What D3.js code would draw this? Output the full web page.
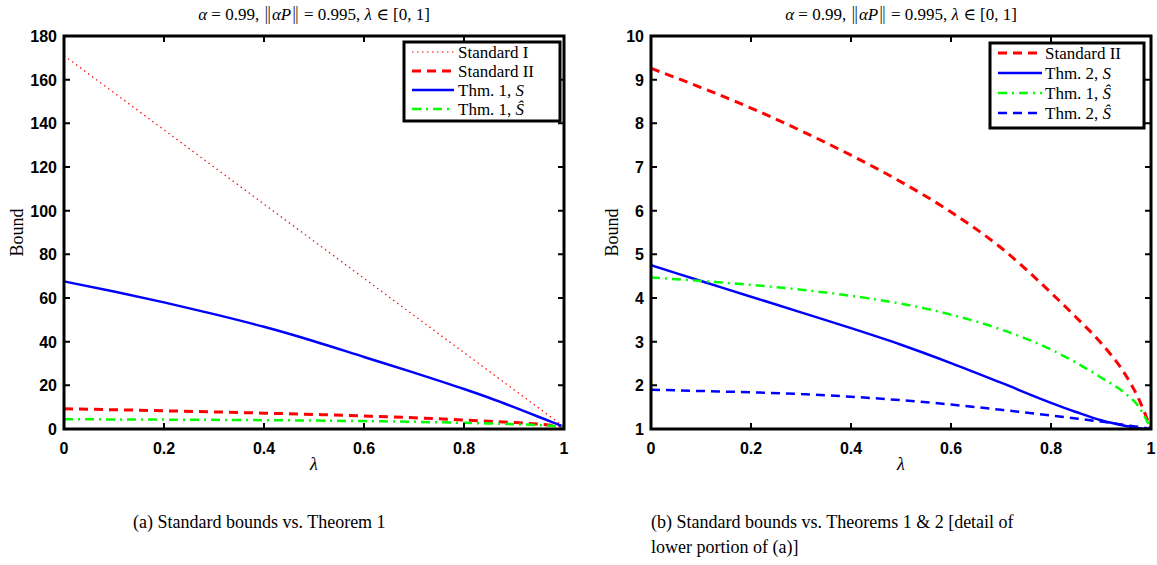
<!DOCTYPE html>
<html>
<head>
<meta charset="utf-8">
<script src="https://cdn.jsdelivr.net/npm/d3@7"></script>
<style>
  body { margin: 0; background: #fff; }
  .tick-lbl { font-family: "Liberation Sans", Arial, sans-serif; font-weight: bold; font-size: 16px; }
  .serif { font-family: "Liberation Serif", "DejaVu Serif", serif; }
</style>
</head>
<body>
<svg id="fig" width="1157" height="565"></svg>
<script>
// lambda grid and the bound curves
var lambdaGrid = [0, 0.1, 0.2, 0.3, 0.4, 0.5, 0.6, 0.7, 0.8, 0.85, 0.9, 0.95, 0.975, 1];
var standardI  = [171, 154, 137, 120, 103, 86, 69, 52, 35, 26.5, 18, 9.5, 5.25, 1];
var standardII = [9.26, 8.82, 8.35, 7.83, 7.27, 6.66, 5.97, 5.15, 4.12, 3.56, 2.97, 2.22, 1.70, 1.0];
var thm1S      = [67.6, 63.0, 58.0, 52.6, 46.8, 40.2, 33.0, 25.8, 18.3, 14.3, 10.0, 5.5, 3.3, 1.0];
var thm1Shat   = [4.47, 4.39, 4.30, 4.19, 4.05, 3.87, 3.62, 3.28, 2.82, 2.52, 2.18, 1.80, 1.52, 1.0];
var thm2S      = [4.75, 4.39, 4.03, 3.67, 3.31, 2.93, 2.51, 2.06, 1.60, 1.39, 1.20, 1.07, 1.02, 1.0];
var thm2Shat   = [1.90, 1.87, 1.84, 1.80, 1.74, 1.66, 1.56, 1.44, 1.31, 1.24, 1.17, 1.09, 1.05, 1.0];

var xTicks = [0, 0.2, 0.4, 0.6, 0.8, 1];
var yTicksA = [0, 20, 40, 60, 80, 100, 120, 140, 160, 180];
var yTicksB = [1, 2, 3, 4, 5, 6, 7, 8, 9, 10];

var styles = {
  stdI:  {color: "#ff0000", width: 1.2, dash: "1.5,3.5"},
  stdII: {color: "#ff0000", width: 3, dash: "9,6"},
  t1S:   {color: "#0000ff", width: 2.5, dash: null},
  t1Sh:  {color: "#00ff00", width: 2.5, dash: "9,5,2,5"},
  t2S:   {color: "#0000ff", width: 2.5, dash: null},
  t2Sh:  {color: "#0000ff", width: 2.5, dash: "9,6"}
};

var panels = [
  {left: 64, right: 564, top: 36, bottom: 429, domain: [0, 180], yTicks: yTicksA, ylabX: 23,
   series: [
     {values: standardI, st: styles.stdI, label: ["Standard I"]},
     {values: standardII, st: styles.stdII, label: ["Standard II"]},
     {values: thm1S, st: styles.t1S, label: ["Thm. 1, ", "S"]},
     {values: thm1Shat, st: styles.t1Sh, label: ["Thm. 1, ", "Ŝ"]}
   ],
   legend: {x0: 404, x1: 560, y0: 42, y1: 121, rows: [52, 71, 90, 109], lx0: 412, lx1: 454, tx: 458},
   caption: [{x: 133, y: 528, t: "(a) Standard bounds vs. Theorem 1"}]},
  {left: 651, right: 1151, top: 36, bottom: 429, domain: [1, 10], yTicks: yTicksB, ylabX: 618,
   series: [
     {values: standardII, st: styles.stdII, label: ["Standard II"]},
     {values: thm2S, st: styles.t2S, label: ["Thm. 2, ", "S"]},
     {values: thm1Shat, st: styles.t1Sh, label: ["Thm. 1, ", "Ŝ"]},
     {values: thm2Shat, st: styles.t2Sh, label: ["Thm. 2, ", "Ŝ"]}
   ],
   legend: {x0: 990, x1: 1144, y0: 43, y1: 128, rows: [53, 73, 93, 113], lx0: 998, lx1: 1042, tx: 1045},
   caption: [{x: 651, y: 528, t: "(b) Standard bounds vs. Theorems 1 & 2 [detail of"},
             {x: 651, y: 553, t: "lower portion of (a)]"}]}
];

var svg = d3.select("#fig");

panels.forEach(function(p, pi) {
  var x = d3.scaleLinear().domain([0, 1]).range([p.left, p.right]);
  var y = d3.scaleLinear().domain(p.domain).range([p.bottom, p.top]);

  svg.append("clipPath").attr("id", "clip" + pi)
    .append("rect").attr("x", p.left).attr("y", p.top)
    .attr("width", p.right - p.left).attr("height", p.bottom - p.top);

  var line = d3.line()
    .x(function(d, i) { return x(lambdaGrid[i]); })
    .y(function(d) { return y(d); })
    .curve(d3.curveMonotoneX);

  var g = svg.append("g").attr("clip-path", "url(#clip" + pi + ")");
  p.series.forEach(function(s) {
    g.append("path")
      .attr("d", line(s.values))
      .attr("fill", "none")
      .attr("stroke", s.st.color)
      .attr("stroke-width", s.st.width)
      .attr("stroke-dasharray", s.st.dash);
  });

  // axes, ticks inward on all four sides
  var ax = svg.append("g");
  ax.selectAll(".xt").data(xTicks).enter().append("path")
    .attr("d", function(d) { return "M" + x(d) + "," + p.bottom + "v-6M" + x(d) + "," + p.top + "v6"; })
    .attr("stroke", "#000").attr("stroke-width", 2);
  ax.selectAll(".yt").data(p.yTicks).enter().append("path")
    .attr("d", function(d) { return "M" + p.left + "," + y(d) + "h6M" + p.right + "," + y(d) + "h-6"; })
    .attr("stroke", "#000").attr("stroke-width", 2);

  ax.selectAll(".xl").data(xTicks).enter().append("text")
    .attr("class", "tick-lbl")
    .attr("x", function(d) { return x(d); })
    .attr("y", p.bottom + 25)
    .attr("text-anchor", "middle")
    .text(function(d) { return d3.format("~g")(d); });
  ax.selectAll(".yl").data(p.yTicks).enter().append("text")
    .attr("class", "tick-lbl")
    .attr("x", p.left - 7)
    .attr("y", function(d) { return y(d) + 6; })
    .attr("text-anchor", "end")
    .text(function(d) { return d; });

  svg.append("rect")
    .attr("x", p.left).attr("y", p.top)
    .attr("width", p.right - p.left).attr("height", p.bottom - p.top)
    .attr("fill", "none").attr("stroke", "#000").attr("stroke-width", 3);

  // title
  var cx = (p.left + p.right) / 2;
  var title = svg.append("text").attr("class", "serif")
    .attr("x", cx).attr("y", 20).attr("text-anchor", "middle")
    .style("font-size", "17px");
  [["α", 1], [" = 0.99, ", 0], ["‖", 2], ["αP", 1], ["‖", 2], [" = 0.995, ", 0], ["λ", 1], [" ∈ [0, 1]", 0]].forEach(function(t) {
    var ts = title.append("tspan").text(t[0]);
    if (t[1] == 1) ts.style("font-style", "italic");
    if (t[1] == 2) ts.style("font-family", "'DejaVu Sans'").style("font-weight", "200");
  });

  // axis labels
  svg.append("text").attr("class", "serif")
    .attr("transform", "translate(" + p.ylabX + "," + ((p.top + p.bottom) / 2) + ") rotate(-90)")
    .attr("text-anchor", "middle").style("font-size", "18px")
    .text("Bound");
  svg.append("text").attr("class", "serif")
    .attr("x", cx).attr("y", p.bottom + 41).attr("text-anchor", "middle")
    .style("font-size", "18px").style("font-style", "italic")
    .text("λ");

  // legend
  var L = p.legend;
  svg.append("rect")
    .attr("x", L.x0).attr("y", L.y0)
    .attr("width", L.x1 - L.x0).attr("height", L.y1 - L.y0)
    .attr("fill", "#fff").attr("stroke", "#000").attr("stroke-width", 3);
  p.series.forEach(function(s, i) {
    svg.append("line")
      .attr("x1", L.lx0).attr("x2", L.lx1)
      .attr("y1", L.rows[i]).attr("y2", L.rows[i])
      .attr("stroke", s.st.color).attr("stroke-width", s.st.width)
      .attr("stroke-dasharray", s.st.dash);
    var t = svg.append("text").attr("class", "serif")
      .attr("x", L.tx).attr("y", L.rows[i] + 6)
      .style("font-size", "17px");
    t.append("tspan").text(s.label[0]);
    if (s.label[1]) t.append("tspan").style("font-style", "italic").text(s.label[1]);
  });

  // caption
  p.caption.forEach(function(c) {
    svg.append("text").attr("class", "serif")
      .attr("x", c.x).attr("y", c.y)
      .style("font-size", "18px")
      .text(c.t);
  });
});
</script>
</body>
</html>
